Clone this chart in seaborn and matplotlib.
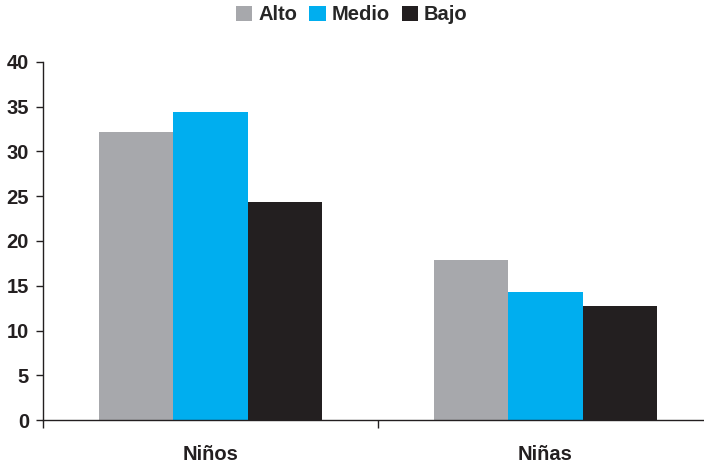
import matplotlib
matplotlib.use("Agg")
import matplotlib.pyplot as plt
import seaborn as sns
import pandas as pd
from matplotlib.patches import Patch

categories = ["Niños", "Niñas"]
series = ["Alto", "Medio", "Bajo"]
alto = [32.2, 17.9]
medio = [34.4, 14.3]
bajo = [24.4, 12.7]
colors = ["#A7A8AC", "#00AEEF", "#231F20"]
yticks = [0, 5, 10, 15, 20, 25, 30, 35, 40]

rows = []
for s, vals in zip(series, [alto, medio, bajo]):
    for c, v in zip(categories, vals):
        rows.append({"cat": c, "serie": s, "val": v})
df = pd.DataFrame(rows)

sns.set_style("white")
plt.rcParams['font.family'] = ['Liberation Sans Narrow', 'Liberation Sans', 'DejaVu Sans']

fig = plt.figure(figsize=(7.04, 4.67), dpi=100)
ax = fig.add_axes([43/704, 47/467, 670/704, 358/467])
sns.barplot(data=df, x="cat", y="val", hue="serie", order=categories,
            hue_order=series, palette=colors, width=0.666, saturation=1,
            edgecolor="none", linewidth=0, ax=ax, legend=False)

ax.set_xlim(-0.5, 1.5)
ax.set_ylim(0, 40)
ax.set_yticks(yticks)
ax.set_yticklabels([str(t) for t in yticks], fontsize=14.5, fontweight="bold", color="#231F20")
ax.set_xticks([0, 1])
ax.set_xticklabels(categories, fontsize=14.5, fontweight="bold", color="#231F20")
ax.set_xticks([-0.5, 0.5, 1.5], minor=True)
ax.tick_params(axis="x", which="major", bottom=False, length=0, pad=18)
ax.tick_params(axis="x", which="minor", bottom=True, length=6, width=1, color="#231F20", direction="out")
ax.tick_params(axis="y", which="major", left=True, length=5, width=1, color="#231F20", direction="out", pad=5)
ax.set_xlabel("")
ax.set_ylabel("")
for side in ["top", "right"]:
    ax.spines[side].set_visible(False)
for side in ["left", "bottom"]:
    ax.spines[side].set_color("#231F20")
    ax.spines[side].set_linewidth(1)

handles = [Patch(facecolor=c, edgecolor="none", label=s) for s, c in zip(series, colors)]
fig.legend(handles=handles, loc="center", bbox_to_anchor=(0.5, 1 - 15/467), ncol=3,
           frameon=False, prop={"weight": "bold", "size": 14.5},
           handlelength=0.8, handleheight=0.8, handletextpad=0.3, columnspacing=0.6)

fig.savefig("out.png", dpi=100)
